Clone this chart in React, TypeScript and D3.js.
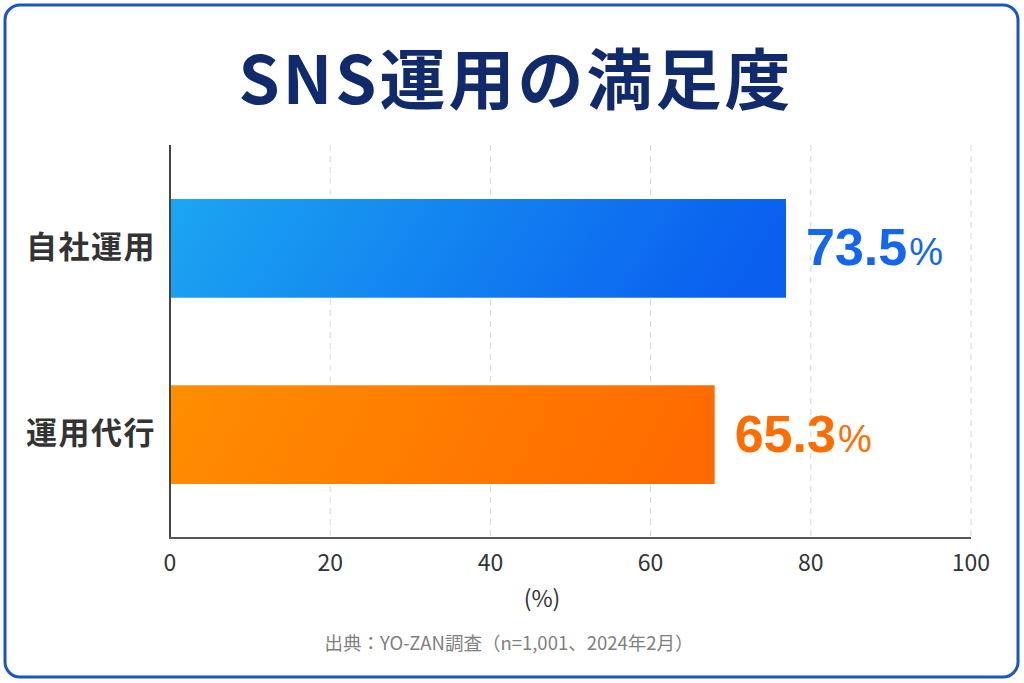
import * as d3 from "d3";

const categories = ["自社運用", "運用代行"];
// bar lengths as drawn in the picture
const barValues = [76.9, 68.0];
// printed value labels
const valueLabels = ["73.5", "65.3"];
const xTicks = [0, 20, 40, 60, 80, 100];

const W = 1024;
const H = 683;
const FONT = "'Noto Sans CJK JP', 'Noto Sans', sans-serif";

const barGradients = [
  { id: "gBlue", from: "#1ba6f1", to: "#0a5fef", label: "#1466ee" },
  { id: "gOrange", from: "#ff8e00", to: "#ff6b00", label: "#ff6d00" },
];

const App = () => {
  const x = d3.scaleLinear().domain([0, 100]).range([170, 971]);
  const y = d3
    .scaleBand<string>()
    .domain(categories)
    .range([145, 538])
    .paddingInner(0.47)
    .paddingOuter(0.29);

  return (
    <div style={{ position: "fixed", left: 0, top: 0, width: W, height: H, background: "#fff" }}>
      <svg width={W} height={H} style={{ display: "block" }}>
        <defs>
          {barGradients.map((g) => (
            <linearGradient key={g.id} id={g.id} x1="0" y1="0" x2="1" y2="0.1">
              <stop offset="0%" stopColor={g.from} />
              <stop offset="100%" stopColor={g.to} />
            </linearGradient>
          ))}
        </defs>

        <rect x={5} y={5} width={1013} height={672} rx={15} fill="#fff" stroke="#1a55c6" strokeWidth={3} />

        <text
          x={516}
          y={104}
          textAnchor="middle"
          fontFamily={FONT}
          fontWeight={700}
          fontSize={66}
          letterSpacing={3}
          fill="#102a6b"
        >
          SNS運用の満足度
        </text>

        {/* grid */}
        {xTicks.slice(1).map((t) => (
          <line key={t} x1={x(t)} x2={x(t)} y1={145} y2={538} stroke="#d8d8d8" strokeWidth={1} strokeDasharray="6,5" />
        ))}

        {/* bars */}
        {categories.map((c, i) => (
          <rect
            key={c}
            x={x(0)}
            y={y(c)}
            width={x(barValues[i]) - x(0)}
            height={y.bandwidth()}
            fill={`url(#${barGradients[i].id})`}
          />
        ))}

        {/* axes */}
        <line x1={x(0)} x2={x(0)} y1={145} y2={539} stroke="#444" strokeWidth={2} />
        <line x1={x(0) - 1} x2={x(100)} y1={538} y2={538} stroke="#555" strokeWidth={2} />

        {xTicks.map((t) => (
          <text key={t} x={x(t)} y={571} textAnchor="middle" fontFamily={FONT} fontSize={23} fill="#333">
            {t}
          </text>
        ))}
        <text x={542} y={607} textAnchor="middle" fontFamily={FONT} fontSize={23} fill="#333">
          (%)
        </text>

        {categories.map((c) => (
          <text
            key={c}
            x={156}
            y={(y(c) ?? 0) + y.bandwidth() / 2 - 4}
            textAnchor="end"
            dominantBaseline="central"
            fontFamily={FONT}
            fontWeight={700}
            fontSize={31}
            letterSpacing={1.5}
            fill="#333"
          >
            {c}
          </text>
        ))}

        {categories.map((c, i) => (
          <text
            key={c}
            x={x(barValues[i]) + 20}
            y={(y(c) ?? 0) + y.bandwidth() / 2 + 17}
            fontFamily="'Liberation Sans', Arial, sans-serif"
            fill={barGradients[i].label}
          >
            <tspan fontSize={52} fontWeight={700}>{valueLabels[i]}</tspan>
            <tspan fontSize={38} dx={2}>%</tspan>
          </text>
        ))}

        <text x={509} y={650} textAnchor="middle" fontFamily={FONT} fontSize={18.5} fill="#808080">
          出典：YO-ZAN調査（n=1,001、2024年2月）
        </text>
      </svg>
    </div>
  );
};

export default App;
